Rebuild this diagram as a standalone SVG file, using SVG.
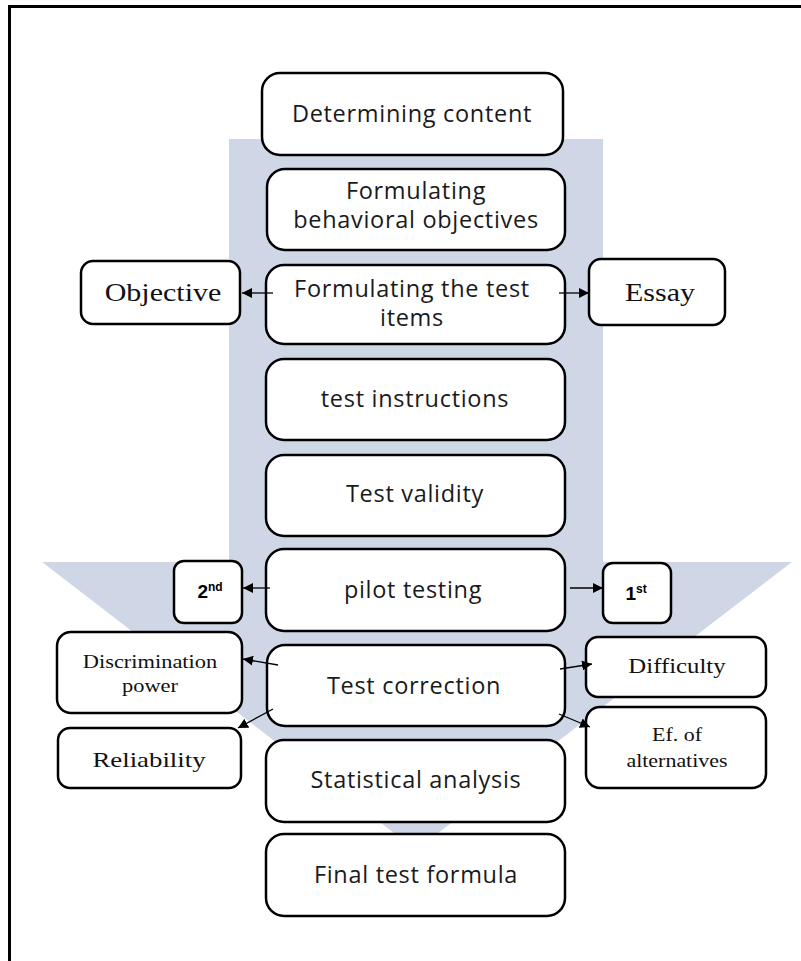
<svg xmlns="http://www.w3.org/2000/svg" width="801" height="961" viewBox="0 0 801 961">
<defs>
<style>
.bx{fill:#fff;stroke:#000;stroke-width:2.5}
.st{font-family:"Open Sans","Noto Sans",sans-serif;font-size:23.5px;letter-spacing:0.7px;fill:#1a1a1a;text-anchor:middle}
.sf{font-family:"Liberation Serif","Times New Roman",serif;fill:#111;text-anchor:middle}
.bd{font-family:"Liberation Sans",Arial,sans-serif;font-weight:bold;font-size:19px;fill:#000;text-anchor:middle}
.cn{stroke:#000;stroke-width:1.3;fill:none;marker-end:url(#ah)}
</style>
<marker id="ah" markerUnits="userSpaceOnUse" markerWidth="12" markerHeight="10" refX="10" refY="5" orient="auto">
<path d="M0,0 L10,5 L0,10 Z" fill="#000"/>
</marker>
</defs>
<rect width="801" height="961" fill="#fff"/>
<path d="M9.5,961 V6.5 H801" fill="none" stroke="#000" stroke-width="3"/>
<g id="big-arrow">
<path d="M229,139 H603 V562 H792 L416,850 L42,562 H229 Z" fill="#cfd7e7"/>
</g>
<g id="n1"><rect class="bx" x="262" y="73" width="301" height="82" rx="18"/><text class="st" x="412" y="122">Determining content</text></g>
<g id="n2"><rect class="bx" x="267" y="169" width="298" height="81" rx="18"/><text class="st" x="416" y="199">Formulating</text><text class="st" x="416" y="228">behavioral objectives</text></g>
<g id="n3"><rect class="bx" x="266" y="265" width="299" height="79" rx="18"/><text class="st" x="412" y="297">Formulating the test</text><text class="st" x="412" y="326">items</text></g>
<g id="n4"><rect class="bx" x="266" y="359" width="299" height="81" rx="18"/><text class="st" x="415" y="407">test instructions</text></g>
<g id="n5"><rect class="bx" x="266" y="455" width="299" height="81" rx="18"/><text class="st" x="415" y="502">Test validity</text></g>
<g id="n6"><rect class="bx" x="266" y="549" width="299" height="82" rx="18"/><text class="st" x="413" y="598">pilot testing</text></g>
<g id="n7"><rect class="bx" x="267" y="645" width="298" height="81" rx="18"/><text class="st" x="414" y="694">Test correction</text></g>
<g id="n8"><rect class="bx" x="266" y="740" width="299" height="82" rx="18"/><text class="st" x="416" y="788">Statistical analysis</text></g>
<g id="n9"><rect class="bx" x="266" y="834" width="299" height="82" rx="18"/><text class="st" x="416" y="883">Final test formula</text></g>
<g id="objective"><rect class="bx" x="81" y="261" width="159" height="63" rx="12"/><text class="sf" transform="translate(163,301) scale(1.2,1)" font-size="25">Objective</text></g>
<g id="essay"><rect class="bx" x="589" y="259" width="136" height="66" rx="12"/><text class="sf" transform="translate(660,301) scale(1.2,1)" font-size="25">Essay</text></g>
<g id="second"><rect class="bx" x="174" y="561" width="68" height="62" rx="10"/><text class="bd" x="210" y="598">2<tspan font-size="12" dy="-7">nd</tspan></text></g>
<g id="first"><rect class="bx" x="603" y="563" width="68" height="60" rx="10"/><text class="bd" x="636" y="600">1<tspan font-size="12" dy="-7">st</tspan></text></g>
<g id="discrimination"><rect class="bx" x="57" y="632" width="185" height="81" rx="14"/><text class="sf" transform="translate(150,668) scale(1.18,1)" font-size="19">Discrimination</text><text class="sf" transform="translate(150,692) scale(1.18,1)" font-size="19">power</text></g>
<g id="reliability"><rect class="bx" x="58" y="728" width="183" height="60" rx="12"/><text class="sf" transform="translate(149,767) scale(1.22,1)" font-size="22">Reliability</text></g>
<g id="difficulty"><rect class="bx" x="586" y="637" width="180" height="60" rx="12"/><text class="sf" transform="translate(677,673) scale(1.24,1)" font-size="20">Difficulty</text></g>
<g id="alternatives"><rect class="bx" x="586" y="707" width="180" height="81" rx="14"/><text class="sf" transform="translate(677,741) scale(1.22,1)" font-size="18">Ef. of</text><text class="sf" transform="translate(677,767) scale(1.22,1)" font-size="18">alternatives</text></g>
<g id="connectors">
<line class="cn" x1="273" y1="293" x2="242" y2="293"/>
<line class="cn" x1="559" y1="293" x2="589" y2="293"/>
<line class="cn" x1="270" y1="588" x2="243" y2="588"/>
<line class="cn" x1="570" y1="588" x2="603" y2="588"/>
<line class="cn" x1="278" y1="665" x2="243" y2="659"/>
<line class="cn" x1="273" y1="709" x2="238" y2="728"/>
<line class="cn" x1="560" y1="669" x2="592" y2="664"/>
<line class="cn" x1="559" y1="714" x2="590" y2="727"/>
</g>
</svg>
